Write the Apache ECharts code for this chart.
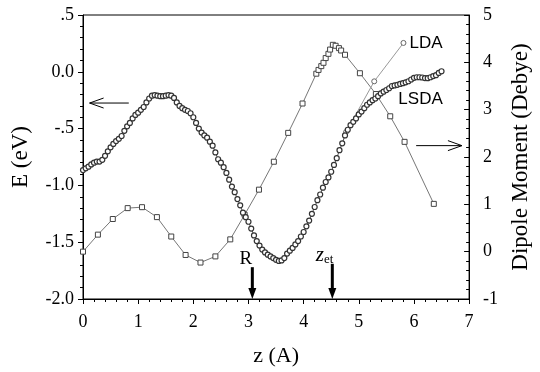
<!DOCTYPE html>
<html><head><meta charset="utf-8">
<script src="https://cdn.jsdelivr.net/npm/echarts@6/dist/echarts.min.js"></script>
<style>html,body{margin:0;padding:0;background:#fff}#c{width:540px;height:372px}</style>
</head><body><div id="c"></div>
<script>
// LSDA energy (left axis, eV)
const lsdaX = [0.00,0.05,0.10,0.15,0.20,0.25,0.30,0.35,0.40,0.45,0.50,0.55,0.60,0.65,0.70,0.75,0.80,0.85,0.90,0.95,
1.00,1.05,1.10,1.15,1.20,1.25,1.30,1.35,1.40,1.45,1.50,1.55,1.60,1.65,1.70,1.75,1.80,1.85,1.90,1.95,
2.00,2.05,2.10,2.15,2.20,2.25,2.30,2.35,2.40,2.45,2.50,2.55,2.60,2.65,2.70,2.75,2.80,2.85,2.90,2.95,
3.00,3.05,3.10,3.15,3.20,3.25,3.30,3.35,3.40,3.45,3.50,3.55,3.60,3.65,3.70,3.75,3.80,3.85,3.90,3.95,
4.00,4.05,4.10,4.15,4.20,4.25,4.30,4.35,4.40,4.45,4.50,4.55,4.60,4.65,4.70,4.75,4.80,4.85,4.90,4.95,
5.00,5.05,5.10,5.15,5.20,5.25,5.30,5.35,5.40,5.45,5.50,5.55,5.60,5.65,5.70,5.75,5.80,5.85,5.90,5.95,
6.00,6.05,6.10,6.15,6.20,6.25,6.30,6.35,6.40,6.45,6.50];
const lsdaE = [-0.865,-0.85,-0.835,-0.815,-0.80,-0.79,-0.79,-0.775,-0.74,-0.70,-0.665,-0.635,-0.61,-0.59,-0.565,-0.52,-0.48,-0.45,-0.41,-0.38,
-0.36,-0.335,-0.31,-0.27,-0.235,-0.21,-0.205,-0.21,-0.215,-0.215,-0.21,-0.205,-0.21,-0.23,-0.27,-0.30,-0.32,-0.335,-0.345,-0.365,
-0.40,-0.45,-0.50,-0.535,-0.56,-0.58,-0.615,-0.65,-0.71,-0.77,-0.80,-0.84,-0.89,-0.95,-1.01,-1.06,-1.12,-1.175,-1.24,-1.28,
-1.32,-1.38,-1.44,-1.49,-1.53,-1.565,-1.59,-1.61,-1.625,-1.64,-1.655,-1.665,-1.66,-1.64,-1.60,-1.575,-1.55,-1.52,-1.49,-1.45,
-1.41,-1.36,-1.31,-1.25,-1.19,-1.13,-1.08,-1.02,-0.97,-0.93,-0.88,-0.82,-0.76,-0.69,-0.63,-0.56,-0.51,-0.47,-0.44,-0.41,
-0.375,-0.35,-0.32,-0.29,-0.27,-0.25,-0.235,-0.215,-0.19,-0.175,-0.16,-0.145,-0.125,-0.12,-0.115,-0.107,-0.10,-0.093,-0.083,-0.068,
-0.053,-0.048,-0.048,-0.05,-0.055,-0.056,-0.048,-0.038,-0.03,-0.01,0.005];
// LDA energy (left axis, eV)
const ldaX = [4.77, 5.28, 5.81];
const ldaE = [-0.53, -0.084, 0.254];
// Dipole moment (right axis, Debye)
const dipX = [0,0.27,0.54,0.81,1.07,1.34,1.60,1.86,2.13,2.40,2.67,2.93,3.19,3.46,3.72,3.98,4.23,4.27,4.32,4.36,4.40,4.45,4.48,4.53,4.58,4.64,4.68,4.75,5.02,5.31,5.57,5.83,6.36];
const dipD = [0.00,0.36,0.69,0.92,0.94,0.73,0.32,-0.07,-0.23,-0.10,0.26,0.78,1.31,1.90,2.51,3.13,3.76,3.84,3.92,3.99,4.09,4.18,4.27,4.37,4.35,4.30,4.25,4.16,3.77,3.33,2.86,2.32,1.01];

const eTickLabels = {'-2':'-2.0','-1.5':'-1.5','-1':'-1.0','-0.5':'-.5','0':'0.0','0.5':'.5'};

const serif = '"Liberation Serif", "DejaVu Serif", serif';
const sans = '"Liberation Sans", Arial, sans-serif';
const chart = echarts.init(document.getElementById('c'), null, {renderer:'canvas'});

const lsdaData = lsdaX.map((x,i)=>[x, lsdaE[i]]);
const ldaData = ldaX.map((x,i)=>{
  const d = {value:[x, ldaE[i]]};
  if (i === ldaX.length-1) d.label = {show:true, position:'right', distance:3, formatter:'LDA', fontFamily:sans, fontSize:17, color:'#000'};
  return d;
});
const dipData = dipX.map((x,i)=>[x, dipD[i]]);

const tickLabel = {fontFamily:serif, fontSize:18, color:'#000'};

chart.setOption({
  animation:false,
  backgroundColor:'#fff',
  textStyle:{fontFamily:serif},
  grid:{left:83, right:61, top:15, bottom:70, show:true, borderColor:'#000', borderWidth:1, backgroundColor:'transparent'},
  xAxis:{type:'value', min:0, max:7, interval:1,
    name:'z (A)', nameLocation:'middle', nameGap:46,
    nameTextStyle:{fontFamily:serif, fontSize:22, color:'#000'},
    axisLine:{onZero:false, lineStyle:{color:'#000', width:1}},
    axisTick:{inside:false, length:5, lineStyle:{color:'#000'}},
    minorTick:{show:true, splitNumber:5, length:3, lineStyle:{color:'#000'}},
    splitLine:{show:false},
    axisLabel:Object.assign({margin:14}, tickLabel)
  },
  yAxis:[
    {type:'value', min:-2, max:0.5, interval:0.5, position:'left',
     name:'E (eV)', nameLocation:'middle', nameGap:51, nameRotate:90,
     nameTextStyle:{fontFamily:serif, fontSize:23, color:'#000'},
     axisLine:{show:true, onZero:false, lineStyle:{color:'#000'}},
     axisTick:{inside:false, length:5, lineStyle:{color:'#000'}},
     minorTick:{show:true, splitNumber:5, length:3, lineStyle:{color:'#000'}},
     splitLine:{show:false},
     axisLabel:Object.assign({margin:9,
       formatter:v=>eTickLabels[String(Math.round(v*10)/10)] ?? String(v)}, tickLabel)
    },
    {type:'value', min:-1, max:5, interval:1, position:'right',
     name:'Dipole Moment (Debye)', nameLocation:'middle', nameGap:38, nameRotate:90,
     nameTextStyle:{fontFamily:serif, fontSize:23, color:'#000'},
     axisLine:{show:true, onZero:false, lineStyle:{color:'#000'}},
     axisTick:{inside:true, length:5, lineStyle:{color:'#000'}},
     minorTick:{show:true, splitNumber:5, length:3, lineStyle:{color:'#000'}},
     splitLine:{show:false},
     axisLabel:Object.assign({margin:14}, tickLabel)
    }
  ],
  series:[
    {name:'Dipole', type:'line', yAxisIndex:1, data:dipData,
     symbol:'rect', symbolSize:5, showAllSymbol:true,
     lineStyle:{color:'#777', width:1},
     itemStyle:{color:'#fff', borderColor:'#444', borderWidth:1}, z:2},
    {name:'LDA', type:'line', yAxisIndex:0, data:ldaData,
     symbol:'circle', symbolSize:5, showAllSymbol:true,
     lineStyle:{color:'#999', width:1},
     itemStyle:{color:'#fff', borderColor:'#666', borderWidth:1}, z:3},
    {name:'LSDA', type:'line', yAxisIndex:0, data:lsdaData,
     symbol:'circle', symbolSize:5, showAllSymbol:true,
     lineStyle:{color:'#555', width:1},
     itemStyle:{color:'#fff', borderColor:'#333', borderWidth:1.2}, z:4}
  ]
});

// annotations in data coordinates (left axis)
const openArrows = [ {tail:[0.83,-0.275], tip:[0.12,-0.275]}, {tail:[6.04,-0.65], tip:[6.87,-0.65]} ];
const boldArrows = [ {top:[3.07,-1.72], tip:[3.07,-2.0]}, {top:[4.52,-1.69], tip:[4.52,-2.0]} ];
const texts = [
  {at:[6.12,-0.24], rich:false, text:'LSDA'},
  {at:[2.95,-1.65], rich:false, text:'R', serif:true},
  {at:[4.38,-1.62], rich:true}
];
const P = p => chart.convertToPixel({xAxisIndex:0, yAxisIndex:0}, p);
const g = [];
openArrows.forEach(a=>{
  const t = P(a.tip), s = P(a.tail);
  const dir = Math.sign(s[0]-t[0]);
  g.push({type:'line', shape:{x1:s[0], y1:s[1], x2:t[0], y2:t[1]}, style:{stroke:'#000', lineWidth:1}});
  g.push({type:'polyline', shape:{points:[[t[0]+dir*14, t[1]-5],[t[0],t[1]],[t[0]+dir*14, t[1]+5]]}, style:{stroke:'#000', lineWidth:1, fill:null}});
});
boldArrows.forEach(a=>{
  const t = P(a.tip), s = P(a.top);
  g.push({type:'line', shape:{x1:s[0], y1:s[1], x2:t[0], y2:t[1]-8}, style:{stroke:'#000', lineWidth:3}});
  g.push({type:'polygon', shape:{points:[[t[0],t[1]],[t[0]-4,t[1]-11],[t[0]+4,t[1]-11]]}, style:{fill:'#000'}});
});
texts.forEach(t=>{
  const p = P(t.at);
  if (t.rich) {
    g.push({type:'text', x:p[0], y:p[1], style:{text:'{z|z}{s|et}', align:'center', verticalAlign:'middle',
      rich:{z:{fontFamily:serif, fontStyle:'italic', fontSize:21, fill:'#000'},
            s:{fontFamily:serif, fontSize:13, fill:'#000', padding:[8,0,0,0]}}}});
  } else {
    g.push({type:'text', x:p[0], y:p[1], style:{text:t.text, align:'center', verticalAlign:'middle',
      fontFamily: t.serif ? serif : sans, fontSize: t.serif ? 19 : 17, fill:'#000'}});
  }
});
chart.setOption({graphic:g});
</script>
</body></html>
